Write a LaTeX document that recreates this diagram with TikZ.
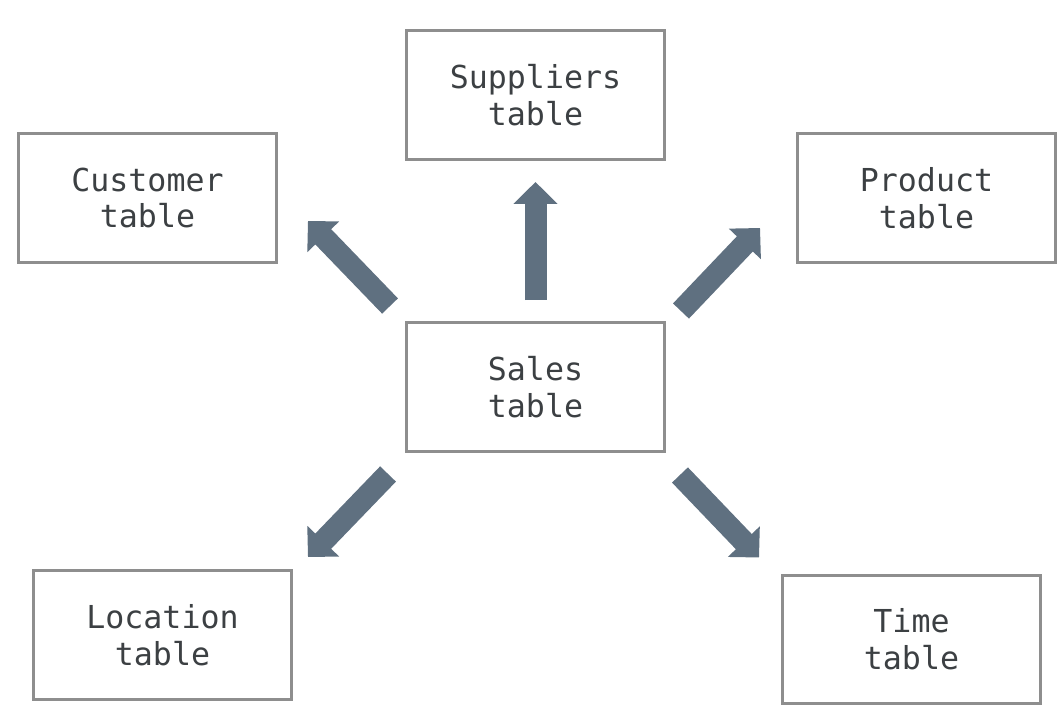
\documentclass[tikz,border=0pt]{standalone}
\usepackage{fontspec}
\setmonofont{DejaVu Sans Mono}
\usetikzlibrary{positioning, arrows.meta}
\definecolor{boxline}{HTML}{8E8E8E}
\definecolor{boxtext}{HTML}{3C4043}
\definecolor{flowcol}{HTML}{5F7080}

\begin{document}
\begin{tikzpicture}[x=0.02cm, y=-0.02cm,
		tablebox/.style={draw=boxline, line width=0.06cm, minimum width=5.16cm, minimum height=2.58cm,
			align=center, text=boxtext, font=\ttfamily\fontsize{18}{21}\selectfont},
		flow/.style={draw=flowcol, line width=0.44cm, -{Triangle[width=0.86cm, length=0.44cm]}}]
		\useasboundingbox (0,0) rectangle (1063,723);
		\node[tablebox] (sales) at (535.5,387) {Sales\\table};
		\node[tablebox] (suppliers) at (535.5,95) {Suppliers\\table};
		\node[tablebox] (customer) at (147.5,198) {Customer\\table};
		\node[tablebox] (product) at (926.5,198) {Product\\table};
		\node[tablebox] (location) at (162.5,635) {Location\\table};
		\node[tablebox] (time) at (911.5,639.5) {Time\\table};
		\draw[flow, shorten <=0.42cm, shorten >=0.42cm] (sales.north) -- (suppliers.south);
		\draw[flow] ([shift={(-15,-15)}]sales.north west) -- ([shift={(30,-43)}]customer.south east);
		\draw[flow] ([shift={(15,-10)}]sales.north east) -- ([shift={(-36,-36)}]product.south west);
		\draw[flow] ([shift={(-17,21)}]sales.south west) -- ([shift={(15,-12)}]location.north east);
		\draw[flow] ([shift={(14,22)}]sales.south east) -- ([shift={(-22,-16)}]time.north west);
\end{tikzpicture}
\end{document}
